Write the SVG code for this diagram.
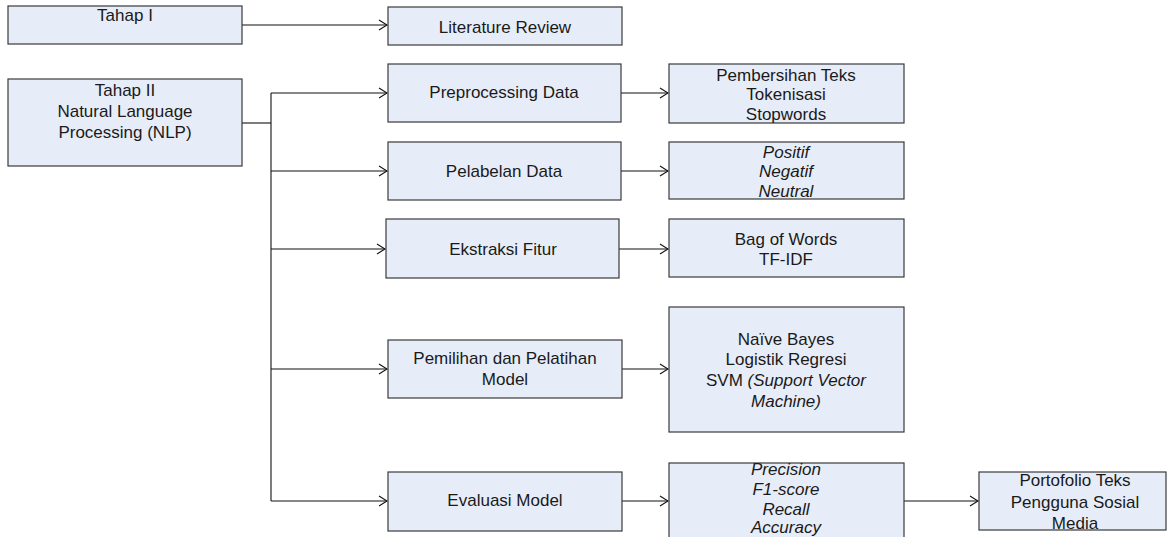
<svg xmlns="http://www.w3.org/2000/svg" width="1169" height="537" viewBox="0 0 1169 537">
<defs>
<style>
.box{fill:#e7edf8;stroke:#3a3a3a;stroke-width:1.2}
.t{font-family:"Liberation Sans",Arial,sans-serif;font-size:17px;fill:#1a1a1a;text-anchor:middle}
.i{font-style:italic}
.c{fill:none;stroke:#111;stroke-width:1.1}
</style>
<marker id="ah" markerWidth="10" markerHeight="12" refX="9" refY="6" orient="auto" markerUnits="userSpaceOnUse">
<path d="M1,1 L9,6 L1,11" fill="none" stroke="#111" stroke-width="1.1"/>
</marker>
</defs>
<rect width="1169" height="537" fill="#fff"/>
<g id="connectors">
<path class="c" d="M242 25 H387" marker-end="url(#ah)"/>
<path class="c" d="M242 123 H271"/>
<path class="c" d="M271 93 V501"/>
<path class="c" d="M271 93 H387" marker-end="url(#ah)"/>
<path class="c" d="M271 171 H387" marker-end="url(#ah)"/>
<path class="c" d="M271 249 H385" marker-end="url(#ah)"/>
<path class="c" d="M271 369 H387" marker-end="url(#ah)"/>
<path class="c" d="M271 501 H387" marker-end="url(#ah)"/>
<path class="c" d="M621 93 H668" marker-end="url(#ah)"/>
<path class="c" d="M621 171 H668" marker-end="url(#ah)"/>
<path class="c" d="M619 249 H668" marker-end="url(#ah)"/>
<path class="c" d="M622 369 H668" marker-end="url(#ah)"/>
<path class="c" d="M622 501 H668" marker-end="url(#ah)"/>
<path class="c" d="M904 501 H978" marker-end="url(#ah)"/>
</g>
<g id="tahap1">
<rect class="box" x="8" y="6" width="234" height="38"/>
<text class="t" x="125" y="21">Tahap I</text>
</g>
<g id="tahap2">
<rect class="box" x="8" y="79" width="234" height="87"/>
<text class="t" x="125" y="96">Tahap II</text>
<text class="t" x="125" y="117">Natural Language</text>
<text class="t" x="125" y="138">Processing (NLP)</text>
</g>
<g id="literature">
<rect class="box" x="388" y="7" width="234" height="38"/>
<text class="t" x="505" y="33">Literature Review</text>
</g>
<g id="preprocessing">
<rect class="box" x="388" y="64" width="233" height="58"/>
<text class="t" x="504" y="98">Preprocessing Data</text>
</g>
<g id="pelabelan">
<rect class="box" x="388" y="142" width="233" height="58"/>
<text class="t" x="504" y="177">Pelabelan Data</text>
</g>
<g id="ekstraksi">
<rect class="box" x="386" y="219" width="233" height="59"/>
<text class="t" x="503" y="255">Ekstraksi Fitur</text>
</g>
<g id="pemilihan">
<rect class="box" x="388" y="340" width="234" height="58"/>
<text class="t" x="505" y="364">Pemilihan dan Pelatihan</text>
<text class="t" x="505" y="385">Model</text>
</g>
<g id="evaluasi">
<rect class="box" x="388" y="472" width="234" height="59"/>
<text class="t" x="505" y="506">Evaluasi Model</text>
</g>
<g id="pembersihan">
<rect class="box" x="669" y="64" width="235" height="59"/>
<text class="t" x="786" y="81">Pembersihan Teks</text>
<text class="t" x="786" y="100">Tokenisasi</text>
<text class="t" x="786" y="120">Stopwords</text>
</g>
<g id="label">
<rect class="box" x="669" y="142" width="235" height="57"/>
<text class="t i" x="786" y="158">Positif</text>
<text class="t i" x="786" y="177">Negatif</text>
<text class="t i" x="786" y="197">Neutral</text>
</g>
<g id="fitur">
<rect class="box" x="669" y="219" width="235" height="58"/>
<text class="t" x="786" y="245">Bag of Words</text>
<text class="t" x="786" y="265">TF-IDF</text>
</g>
<g id="model">
<rect class="box" x="669" y="307" width="235" height="125"/>
<text class="t" x="786" y="345">Naïve Bayes</text>
<text class="t" x="786" y="365">Logistik Regresi</text>
<text class="t" x="786" y="386">SVM <tspan class="i">(Support Vector</tspan></text>
<text class="t i" x="786" y="407">Machine)</text>
</g>
<g id="metrik">
<rect class="box" x="669" y="463" width="235" height="80"/>
<text class="t i" x="786" y="475">Precision</text>
<text class="t i" x="786" y="495">F1-score</text>
<text class="t i" x="786" y="515">Recall</text>
<text class="t i" x="786" y="533">Accuracy</text>
</g>
<g id="portofolio">
<rect class="box" x="979" y="472" width="187" height="58"/>
<text class="t" x="1075" y="486">Portofolio Teks</text>
<text class="t" x="1075" y="508">Pengguna Sosial</text>
<text class="t" x="1075" y="529">Media</text>
</g>
</svg>
